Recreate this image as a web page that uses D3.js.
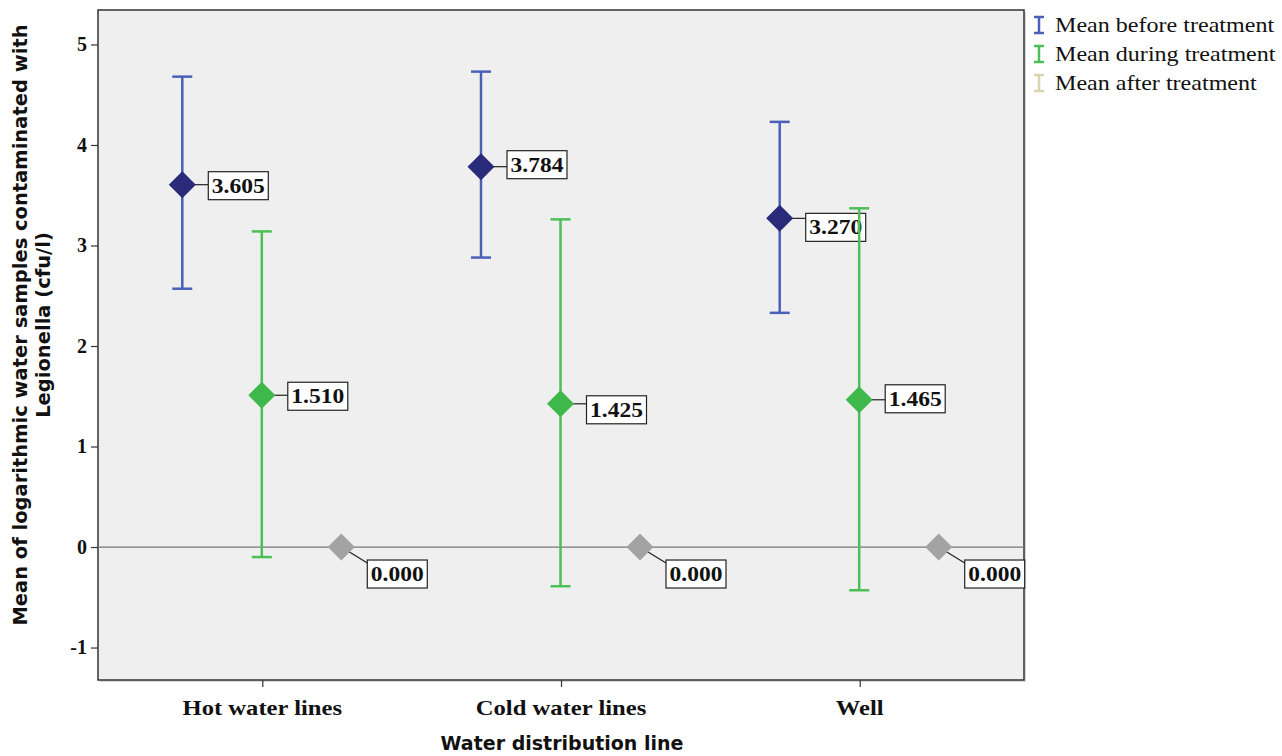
<!DOCTYPE html>
<html><head><meta charset="utf-8">
<script src="https://cdn.jsdelivr.net/npm/d3@7"></script>
<style>body{margin:0;background:#fff;} svg{display:block;}</style>
</head><body>
<svg id="c" width="1282" height="756"></svg>
<script>
const categories = ["Hot water lines", "Cold water lines", "Well"];
const series = ["Mean before treatment", "Mean during treatment", "Mean after treatment"];
const meanBefore = [3.605, 3.784, 3.270];
const lowBefore  = [2.57, 2.88, 2.33];
const highBefore = [4.68, 4.73, 4.23];
const meanDuring = [1.510, 1.425, 1.465];
const lowDuring  = [-0.10, -0.39, -0.43];
const highDuring = [3.14, 3.26, 3.37];
const meanAfter  = [0.000, 0.000, 0.000];
const yTicks = [-1, 0, 1, 2, 3, 4, 5];
const barColors = ["#4a5fb8", "#4cbf57", "#d9d4ad"];
const markerColors = ["#2a2a7a", "#3fb84b", "#a3a3a3"];
const labelDy = [[1, -2, 9], [1, 6, -1], [27, 27, 27]]; // per series, per category

const SX = 1.12; // horizontal stretch of the serif texts
const serif = "Liberation Serif";
const svg = d3.select("#c");
const L = 98, R = 1024, T = 10, B = 680;
const y = d3.scaleLinear().domain([-1.323, 5.343]).range([B, T]);
const x = d3.scalePoint().domain(categories).range([L, R]).padding(0.55);
const xs = d3.scalePoint().domain(series).range([-80, 79]);

function stext(parent, tx, ty, str, size, anchor, weight) {
  const g = parent.append("g").attr("transform", `translate(${tx},${ty}) scale(${SX},1)`);
  return g.append("text").attr("text-anchor", anchor).attr("font-family", serif)
    .attr("font-weight", weight).attr("font-size", size).attr("fill", "#111").text(str);
}

svg.append("rect").attr("x", L + 2).attr("y", T + 2).attr("width", R - L).attr("height", B - T).attr("fill", "#d8d8d8");
svg.append("rect").attr("x", L).attr("y", T).attr("width", R - L).attr("height", B - T)
  .attr("fill", "#efefef").attr("stroke", "#333").attr("stroke-width", 1.5);

// zero reference line
svg.append("line").attr("x1", L).attr("x2", R).attr("y1", y(0)).attr("y2", y(0))
  .attr("stroke", "#777").attr("stroke-width", 1.2);

// axes
const ya = svg.append("g").attr("transform", `translate(${L},0)`)
  .call(d3.axisLeft(y).tickValues(yTicks).tickSize(7).tickFormat(d => String(d)));
ya.select(".domain").remove();
ya.selectAll("line").attr("stroke", "#333").attr("stroke-width", 1.2);
ya.selectAll("text").attr("font-family", serif).attr("font-weight", "bold")
  .attr("font-size", 20).attr("fill", "#111").attr("dx", -1);

const xa = svg.append("g").attr("transform", `translate(0,${B})`)
  .call(d3.axisBottom(x).tickSize(7).tickFormat(""));
xa.select(".domain").remove();
xa.selectAll("line").attr("stroke", "#333").attr("stroke-width", 1.2);
categories.forEach(c => stext(svg, x(c), 715, c, 22, "middle", "bold"));

// titles
const yt = svg.append("text").attr("transform", "translate(27,325) rotate(-90)")
  .attr("text-anchor", "middle").attr("font-family", "DejaVu Sans").attr("font-weight", "bold")
  .attr("font-size", 19.5).attr("fill", "#111");
yt.append("tspan").attr("x", 0).attr("dy", 0).text("Mean of logarithmic water samples contaminated with");
yt.append("tspan").attr("x", 0).attr("dy", 23).text("Legionella (cfu/l)");
svg.append("text").attr("x", 562).attr("y", 750).attr("text-anchor", "middle")
  .attr("font-family", "DejaVu Sans").attr("font-weight", "bold").attr("font-size", 19)
  .attr("fill", "#111").text("Water distribution line");

// data
const means = [meanBefore, meanDuring, meanAfter];
const lows = [lowBefore, lowDuring, null];
const highs = [highBefore, highDuring, null];
const capW = 10, dSize = 13.5;

series.forEach((s, si) => {
  categories.forEach((c, ci) => {
    const cx = x(c) + xs(s);
    const g = svg.append("g");
    if (lows[si]) {
      const y1 = y(lows[si][ci]), y2 = y(highs[si][ci]);
      g.append("line").attr("x1", cx).attr("x2", cx).attr("y1", y1).attr("y2", y2)
        .attr("stroke", barColors[si]).attr("stroke-width", 2.5);
      [y1, y2].forEach(yy => g.append("line").attr("x1", cx - capW).attr("x2", cx + capW)
        .attr("y1", yy).attr("y2", yy).attr("stroke", barColors[si]).attr("stroke-width", 2.5));
    }
    const cy = y(means[si][ci]);
    // label
    const bx = cx + 26, bw = 60, bh = 28;
    const by = cy + labelDy[si][ci] - bh / 2;
    g.append("line").attr("x1", cx).attr("y1", cy).attr("x2", bx).attr("y2", labelDy[si][ci] > 20 ? by + 3 : cy)
      .attr("stroke", "#222").attr("stroke-width", 1.2);
    g.append("path").attr("d", `M${cx},${cy - dSize}L${cx + dSize},${cy}L${cx},${cy + dSize}L${cx - dSize},${cy}Z`)
      .attr("fill", markerColors[si]);
    g.append("rect").attr("x", bx).attr("y", by).attr("width", bw).attr("height", bh)
      .attr("fill", "#fff").attr("stroke", "#222").attr("stroke-width", 1.2);
    stext(g, bx + bw / 2, by + bh / 2 + 7, d3.format(".3f")(means[si][ci]), 21, "middle", "bold");
  });
});

// legend
const lg = svg.append("g").attr("transform", "translate(1033,0)");
series.forEach((s, i) => {
  const yy = 25 + i * 29;
  const c = barColors[i];
  lg.append("line").attr("x1", 6).attr("x2", 6).attr("y1", yy - 8).attr("y2", yy + 8).attr("stroke", c).attr("stroke-width", 2.5);
  lg.append("line").attr("x1", 1).attr("x2", 11).attr("y1", yy - 8).attr("y2", yy - 8).attr("stroke", c).attr("stroke-width", 2.5);
  lg.append("line").attr("x1", 1).attr("x2", 11).attr("y1", yy + 8).attr("y2", yy + 8).attr("stroke", c).attr("stroke-width", 2.5);
  stext(lg, 22, yy + 7, s, 21.5, "start", "normal");
});
</script>
</body></html>
